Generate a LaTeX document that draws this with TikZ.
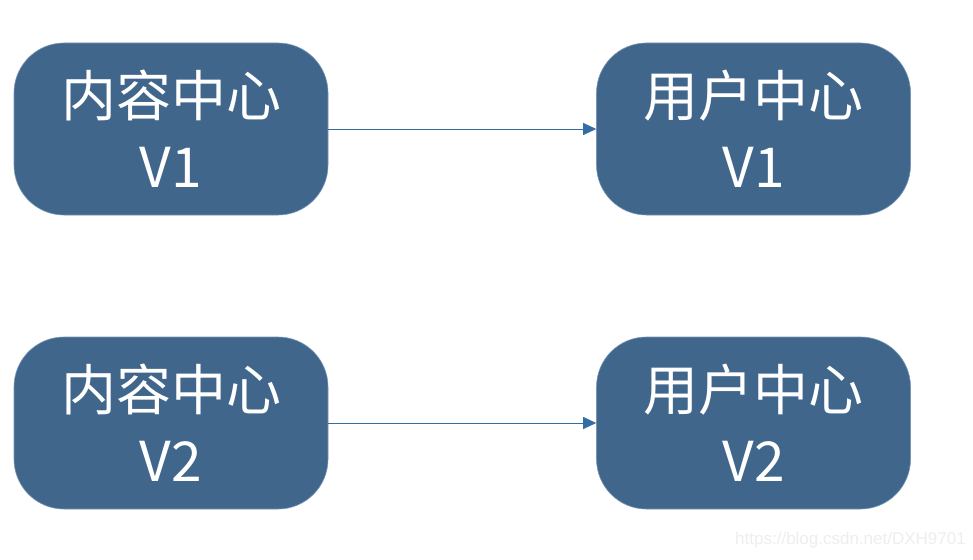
\documentclass[tikz,border=0pt]{standalone}
\usepackage{fontspec}
\newfontfamily\cjk{Noto Sans CJK SC}
\newfontfamily\wm{Liberation Sans}
\usetikzlibrary{arrows.meta}
\definecolor{boxfill}{RGB}{64,102,140}
\definecolor{boxedge}{RGB}{120,150,180}
\definecolor{arrowcol}{RGB}{50,110,165}
\definecolor{wmcol}{RGB}{238,238,238}
\tikzset{
  block/.style={rectangle, rounded corners=50pt, fill=boxfill, draw=boxedge, line width=0.6pt,
    minimum width=314pt, minimum height=172pt, inner sep=0pt, text=white,
    align=center, font=\cjk\fontsize{55}{71}\selectfont},
  link/.style={draw=arrowcol, line width=0.8pt, -{Triangle[length=13pt,width=12pt]}}
}
\begin{document}
\begin{tikzpicture}[x=1pt,y=-1pt]
\useasboundingbox (0,0) rectangle (973,559);
\fill[white] (0,0) rectangle (973,559);
\node[block] (c1) at (171,129) {内容中心\\V1};
\node[block] (u1) at (753.5,129) {用户中心\\V1};
\node[block] (c2) at (171,423) {内容中心\\V2};
\node[block] (u2) at (753.5,423) {用户中心\\V2};
\draw[link] (c1) -- (u1);
\draw[link] (c2) -- (u2);
\node[anchor=east, text=wmcol, font=\wm\fontsize{17}{20}\selectfont, inner sep=0pt] (wmk) at (966,540) {https://blog.csdn.net/DXH9701};
\end{tikzpicture}
\end{document}
